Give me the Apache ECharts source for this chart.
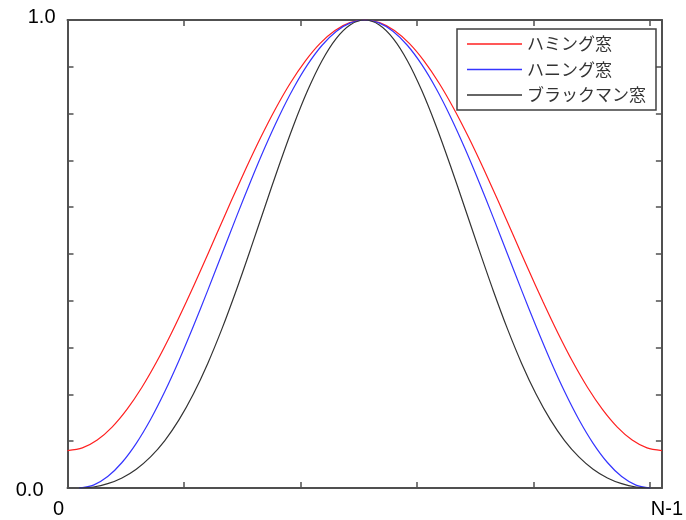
<!DOCTYPE html>
<html>
<head>
<meta charset="utf-8">
<script src="https://cdn.jsdelivr.net/npm/echarts@6/dist/echarts.min.js"></script>
<style>html,body{margin:0;padding:0;background:#fff}#c{width:686px;height:520px}</style>
</head>
<body>
<div id="c"></div>
<script>
var seriesNames = ['ハミング窓', 'ハニング窓', 'ブラックマン窓'];
var xTickLabels = ['0', 'N-1'];
var yTickLabels = ['0.0', '1.0'];
var xMax = 51;

var hammingX = [0, 1.275, 2.55, 3.825, 5.1, 6.375, 7.65, 8.925, 10.2, 11.475, 12.75, 14.025, 15.3, 16.575, 17.85, 19.125, 20.4, 21.675, 22.95, 24.225, 25.5, 26.775, 28.05, 29.325, 30.6, 31.875, 33.15, 34.425, 35.7, 36.975, 38.25, 39.525, 40.8, 42.075, 43.35, 44.625, 45.9, 47.175, 48.45, 49.725, 51];
var hammingY = [0.08, 0.0857, 0.1025, 0.1301, 0.1679, 0.2147, 0.2696, 0.3312, 0.3979, 0.4680, 0.54, 0.6120, 0.6821, 0.7488, 0.8104, 0.8653, 0.9121, 0.9499, 0.9775, 0.9943, 1.0, 0.9943, 0.9775, 0.9499, 0.9121, 0.8653, 0.8104, 0.7488, 0.6821, 0.6120, 0.54, 0.4680, 0.3979, 0.3312, 0.2696, 0.2147, 0.1679, 0.1301, 0.1025, 0.0857, 0.08];

var hannX = [1, 2.225, 3.45, 4.675, 5.9, 7.125, 8.35, 9.575, 10.8, 12.025, 13.25, 14.475, 15.7, 16.925, 18.15, 19.375, 20.6, 21.825, 23.05, 24.275, 25.5, 26.725, 27.95, 29.175, 30.4, 31.625, 32.85, 34.075, 35.3, 36.525, 37.75, 38.975, 40.2, 41.425, 42.65, 43.875, 45.1, 46.325, 47.55, 48.775, 50];
var hannY = [0, 0.0062, 0.0245, 0.0545, 0.0955, 0.1464, 0.2061, 0.2730, 0.3455, 0.4218, 0.5, 0.5782, 0.6545, 0.7270, 0.7939, 0.8536, 0.9045, 0.9455, 0.9755, 0.9938, 1.0, 0.9938, 0.9755, 0.9455, 0.9045, 0.8536, 0.7939, 0.7270, 0.6545, 0.5782, 0.5, 0.4218, 0.3455, 0.2730, 0.2061, 0.1464, 0.0955, 0.0545, 0.0245, 0.0062, 0];

var blackmanX = hannX;
var blackmanY = [0, 0.0022, 0.0092, 0.0215, 0.0402, 0.0665, 0.1014, 0.1460, 0.2008, 0.2657, 0.34, 0.4221, 0.5098, 0.6000, 0.6892, 0.7736, 0.8492, 0.9125, 0.9603, 0.9899, 1.0, 0.9899, 0.9603, 0.9125, 0.8492, 0.7736, 0.6892, 0.6000, 0.5098, 0.4221, 0.34, 0.2657, 0.2008, 0.1460, 0.1014, 0.0665, 0.0402, 0.0215, 0.0092, 0.0022, 0];

function zip(xs, ys) { return xs.map(function (x, i) { return [x, ys[i]]; }); }

var axisColor = '#505050';
var chart = echarts.init(document.getElementById('c'));
var lineCommon = { type: 'line', smooth: 0.3, symbol: 'none', showSymbol: false, animation: false };

function frameAxis(extra) {
  return Object.assign({
    axisLine: { show: true, onZero: false, lineStyle: { color: axisColor, width: 2 } },
    axisTick: { show: true, inside: true, length: 6, lineStyle: { color: axisColor, width: 1.5 } },
    splitLine: { show: false }
  }, extra);
}

chart.setOption({
  animation: false,
  grid: { left: 67.5, right: 23, top: 20, bottom: 32, containLabel: false },
  legend: {
    orient: 'vertical',
    left: 457, top: 29,
    padding: [5, 10, 5, 10],
    icon: 'rect',
    itemWidth: 55, itemHeight: 1.5, itemGap: 5.5,
    borderColor: '#404040', borderWidth: 1.5, borderRadius: 0,
    textStyle: { fontFamily: 'Noto Sans CJK JP', fontSize: 17, color: '#333', lineHeight: 20 },
    data: seriesNames
  },
  xAxis: [frameAxis({
    type: 'value', position: 'bottom', min: 0, max: xMax, interval: 10,
    axisLabel: {
      margin: 11, showMinLabel: true, showMaxLabel: true,
      fontFamily: 'Liberation Sans', fontSize: 20, color: '#000',
      formatter: function (v) { if (v === 0) return '{l|' + xTickLabels[0] + '}'; if (v === xMax) return '{r|' + xTickLabels[1] + '}'; return ''; },
      rich: {
        l: { fontFamily: 'Liberation Sans', fontSize: 20, color: '#000', padding: [0, 18, 0, 0] },
        r: { fontFamily: 'Liberation Sans', fontSize: 20, color: '#000', padding: [0, 0, 0, 10] }
      }
    }
  }), frameAxis({
    type: 'value', position: 'top', min: 0, max: xMax, interval: 10,
    axisLabel: { show: false }
  })],
  yAxis: [frameAxis({
    type: 'value', position: 'left', min: 0, max: 1, interval: 0.1,
    axisLabel: {
      margin: 12, showMinLabel: true, showMaxLabel: true,
      formatter: function (v) { if (v === 0) return '{b|' + yTickLabels[0] + '}'; if (v === 1) return '{t|' + yTickLabels[1] + '}'; return ''; },
      rich: {
        b: { fontFamily: 'Liberation Sans', fontSize: 20, color: '#000', padding: [4, 12, 0, 0] },
        t: { fontFamily: 'Liberation Sans', fontSize: 20, color: '#000', padding: [0, 0, 6, 0] }
      }
    }
  }), frameAxis({
    type: 'value', position: 'right', min: 0, max: 1, interval: 0.1,
    axisLabel: { show: false }
  })],
  series: [
    Object.assign({}, lineCommon, { name: seriesNames[0], data: zip(hammingX, hammingY), lineStyle: { color: '#ff2020', width: 1.2 }, itemStyle: { color: '#ff2020' } }),
    Object.assign({}, lineCommon, { name: seriesNames[1], data: zip(hannX, hannY), lineStyle: { color: '#3535ff', width: 1.2 }, itemStyle: { color: '#3535ff' } }),
    Object.assign({}, lineCommon, { name: seriesNames[2], data: zip(blackmanX, blackmanY), lineStyle: { color: '#333333', width: 1.2 }, itemStyle: { color: '#333333' } })
  ]
});
</script>
</body>
</html>
